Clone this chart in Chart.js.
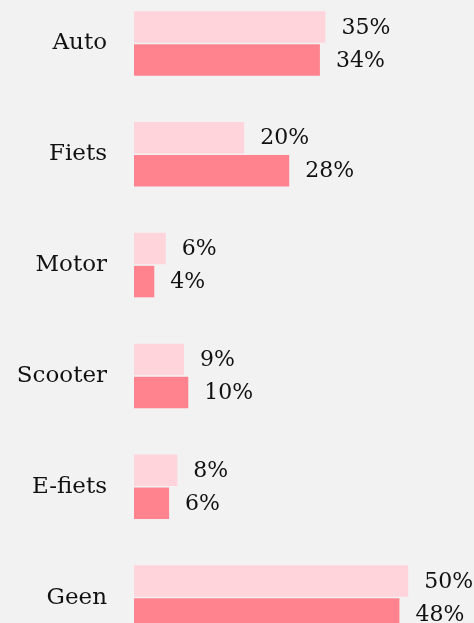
<!DOCTYPE html>
<html>
<head>
<meta charset="utf-8">
<script src="https://cdn.jsdelivr.net/npm/chart.js@4"></script>
<style>
  html, body { margin: 0; padding: 0; background: #f2f2f2; overflow: hidden; }
  #modeChart { display: block; margin-top: -12px; }
</style>
</head>
<body>
<canvas id="modeChart" width="474" height="665"></canvas>
<script>
const categories = ["Auto", "Fiets", "Motor", "Scooter", "E-fiets", "Geen"];
const seriesLight = [34.9, 20.1, 5.8, 9.1, 7.9, 50.0];
const seriesDark = [33.9, 28.3, 3.7, 9.9, 6.4, 48.4];

const FONT = "'DejaVu Serif', serif";

// draws the percentage next to each bar
const valueLabels = {
  id: "valueLabels",
  afterDatasetsDraw(chart) {
    const ctx = chart.ctx;
    ctx.save();
    ctx.font = "22px " + FONT;
    ctx.fillStyle = "#111";
    ctx.textAlign = "left";
    ctx.textBaseline = "middle";
    chart.data.datasets.forEach((ds, i) => {
      chart.getDatasetMeta(i).data.forEach((bar, j) => {
        ctx.fillText(Math.round(ds.data[j]) + "%", bar.x + 16, bar.y + 1);
      });
    });
    ctx.restore();
  }
};

new Chart(document.getElementById("modeChart"), {
  type: "bar",
  data: {
    labels: categories,
    datasets: [
      { data: seriesLight, backgroundColor: "#ffd4da", categoryPercentage: 0.595, barPercentage: 0.955 },
      { data: seriesDark, backgroundColor: "#ff838f", categoryPercentage: 0.595, barPercentage: 0.955 }
    ]
  },
  options: {
    indexAxis: "y",
    responsive: false,
    animation: false,
    layout: { padding: 0 },
    plugins: {
      legend: { display: false },
      tooltip: { enabled: false }
    },
    scales: {
      x: { display: false, min: 0, max: 62 },
      y: {
        border: { display: false },
        grid: { display: false, drawTicks: false },
        ticks: {
          color: "#111",
          padding: 27,
          font: { family: FONT, size: 23 }
        },
        afterFit(scale) {
          // keep the plot area fixed: no label padding above/below
          scale.width = 134;
          scale.paddingTop = 0;
          scale.paddingBottom = 0;
        }
      }
    }
  },
  plugins: [valueLabels]
});
</script>
</body>
</html>
